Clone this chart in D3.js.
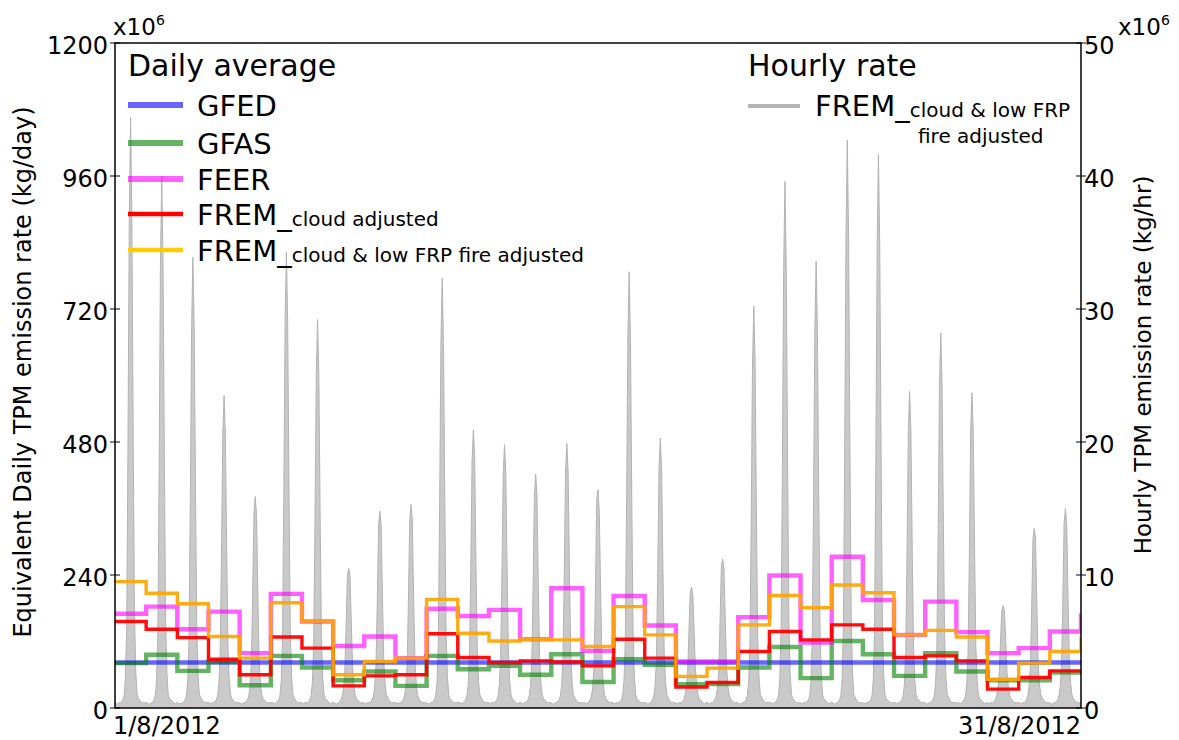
<!DOCTYPE html>
<html>
<head>
<meta charset="utf-8">
<script src="https://cdn.jsdelivr.net/npm/d3@7/dist/d3.min.js"></script>
<style>
  html, body { margin: 0; padding: 0; background: #fff; }
  svg { display: block; font-family: "DejaVu Sans", sans-serif; }
</style>
</head>
<body>
<svg id="chart" width="1179" height="740"></svg>
<script>
// ---------------- DATA ----------------
const dayLabels = ["1/8/2012", "31/8/2012"];
const leftTicks = [0, 240, 480, 720, 960, 1200];
const rightTicks = [0, 10, 20, 30, 40, 50];

// Daily averages (x10^6 kg/day), one value per day 1..31 Aug, plus 1 Sep (edge)
const GFED  = [82,82,82,82,82,82,82,82,82,82,82,82,82,82,82,82,82,82,82,82,82,82,82,82,82,82,82,82,82,82,82,82];
const GFAS  = [81,96,67,84,41,94,73,50,66,40,94,70,76,60,97,47,88,78,43,43,73,110,54,121,97,58,99,66,50,50,64,64];
const FEER  = [170,183,142,174,99,206,156,112,129,90,179,166,177,124,216,103,202,149,84,84,164,239,118,273,195,132,192,137,99,108,138,171];
const FREM_cloud = [156,142,127,88,60,128,108,40,58,60,134,91,82,85,83,76,124,90,38,46,102,138,123,150,142,91,94,85,34,55,67,67];
const FREM_cloud_lowFRP = [228,207,188,129,90,190,157,60,84,90,196,135,121,124,123,111,183,132,57,72,150,203,181,222,208,132,140,128,52,81,102,129];

// Hourly rate (x10^6 kg/hr), 24 hourly values per day
const hourly = [
 [0.4,0.3,0.3,0.4,0.4,0.5,0.6,0.9,2.2,6.1,19.8,36.8,44.4,36.8,20.6,7.1,2.7,1.0,0.7,0.6,0.5,0.4,0.4,0.4],
 [0.4,0.4,0.3,0.3,0.4,0.5,0.6,0.9,2.1,5.7,18.0,33.4,40.0,33.4,18.8,6.6,2.6,1.0,0.7,0.6,0.5,0.4,0.3,0.4],
 [0.4,0.3,0.4,0.3,0.4,0.5,0.6,0.9,2.0,5.1,15.6,28.6,33.9,28.6,16.2,5.9,2.4,1.0,0.8,0.6,0.5,0.4,0.4,0.4],
 [0.4,0.4,0.3,0.4,0.4,0.5,0.6,0.9,1.8,4.1,11.4,20.5,23.5,20.5,11.9,4.6,2.1,1.0,0.7,0.6,0.5,0.4,0.4,0.4],
 [0.4,0.3,0.3,0.4,0.4,0.5,0.6,0.9,1.6,3.3,8.4,14.6,15.9,14.6,8.7,3.7,1.9,1.0,0.7,0.6,0.5,0.4,0.4,0.4],
 [0.4,0.4,0.4,0.3,0.4,0.5,0.6,0.9,2.0,5.1,15.7,29.0,34.3,29.0,16.4,5.9,2.4,1.0,0.8,0.6,0.5,0.4,0.4,0.4],
 [0.4,0.3,0.4,0.4,0.4,0.5,0.6,0.9,1.9,4.6,13.7,25.0,29.2,25.0,14.3,5.3,2.3,1.0,0.7,0.6,0.5,0.4,0.3,0.4],
 [0.4,0.4,0.3,0.3,0.4,0.5,0.6,0.9,1.5,2.8,6.2,10.0,10.5,10.0,6.4,3.1,1.7,1.0,0.7,0.6,0.5,0.4,0.4,0.4],
 [0.4,0.3,0.4,0.4,0.4,0.5,0.6,0.9,1.6,3.2,7.9,13.7,14.8,13.7,8.2,3.6,1.8,1.0,0.8,0.6,0.5,0.4,0.4,0.4],
 [0.4,0.4,0.3,0.4,0.4,0.5,0.6,0.9,1.6,3.2,8.1,14.1,15.3,14.1,8.4,3.6,1.9,1.0,0.7,0.6,0.5,0.4,0.4,0.4],
 [0.4,0.3,0.3,0.4,0.4,0.5,0.6,0.9,1.9,4.9,14.9,27.4,32.3,27.4,15.6,5.7,2.4,1.0,0.7,0.6,0.5,0.4,0.4,0.4],
 [0.4,0.4,0.4,0.3,0.4,0.5,0.6,0.9,1.7,3.8,10.4,18.5,20.9,19.0,10.8,4.3,2.0,1.0,0.8,0.6,0.5,0.4,0.4,0.4],
 [0.4,0.3,0.4,0.4,0.4,0.5,0.6,0.9,1.7,3.7,9.9,17.6,19.8,17.6,10.3,4.2,2.0,1.0,0.7,0.6,0.5,0.4,0.3,0.4],
 [0.4,0.4,0.3,0.4,0.4,0.5,0.6,0.9,1.6,3.5,9.0,15.9,17.6,15.9,9.4,3.9,1.9,1.0,0.7,0.6,0.5,0.4,0.4,0.4],
 [0.4,0.3,0.3,0.4,0.4,0.5,0.6,0.9,1.7,3.7,10.0,17.7,19.9,17.7,10.4,4.2,2.0,1.0,0.8,0.6,0.5,0.4,0.4,0.4],
 [0.4,0.4,0.4,0.3,0.4,0.5,0.6,0.9,1.6,3.3,8.6,15.6,16.4,14.7,8.9,3.8,1.9,1.0,0.7,0.6,0.5,0.4,0.4,0.4],
 [0.4,0.3,0.4,0.4,0.4,0.5,0.6,0.9,2.0,5.0,15.1,27.8,32.8,27.8,15.8,5.7,2.4,1.0,0.7,0.6,0.5,0.4,0.4,0.4],
 [0.4,0.4,0.3,0.3,0.4,0.5,0.6,0.9,1.7,3.7,10.1,18.0,20.3,18.0,10.5,4.2,2.0,1.0,0.8,0.6,0.5,0.4,0.4,0.4],
 [0.4,0.3,0.4,0.4,0.4,0.5,0.6,0.9,1.5,2.6,5.6,8.6,9.1,8.6,5.8,2.9,1.7,1.0,0.7,0.6,0.5,0.4,0.3,0.4],
 [0.4,0.4,0.3,0.4,0.4,0.5,0.6,0.9,1.5,2.8,6.5,10.6,11.2,10.6,6.7,3.1,1.7,1.0,0.7,0.6,0.5,0.4,0.4,0.4],
 [0.4,0.3,0.3,0.4,0.4,0.5,0.6,0.9,1.9,4.7,14.1,25.8,30.2,25.8,14.7,5.4,2.3,1.0,0.8,0.6,0.5,0.4,0.4,0.4],
 [0.4,0.4,0.4,0.3,0.4,0.5,0.6,0.9,2.1,5.7,17.8,33.1,39.6,33.1,18.6,6.6,2.6,1.0,0.7,0.6,0.5,0.4,0.4,0.4],
 [0.4,0.3,0.4,0.4,0.4,0.5,0.6,0.9,2.0,5.1,15.4,28.4,33.6,28.4,16.1,5.8,2.4,1.0,0.7,0.6,0.5,0.4,0.3,0.4],
 [0.4,0.4,0.3,0.3,0.4,0.5,0.6,0.9,2.2,6.0,19.1,35.5,42.7,35.5,19.9,6.9,2.7,1.0,0.8,0.6,0.5,0.4,0.4,0.4],
 [0.4,0.3,0.4,0.4,0.4,0.5,0.6,0.9,2.1,5.9,18.6,34.6,41.6,34.6,19.5,6.8,2.6,1.0,0.7,0.6,0.5,0.4,0.4,0.4],
 [0.4,0.4,0.3,0.4,0.4,0.5,0.6,0.9,1.8,4.1,11.5,20.8,23.8,20.8,12.0,4.7,2.1,1.0,0.7,0.6,0.5,0.4,0.4,0.4],
 [0.4,0.3,0.3,0.4,0.4,0.5,0.6,0.9,1.9,4.5,13.3,24.2,28.2,24.2,13.8,5.2,2.2,1.0,0.8,0.6,0.5,0.4,0.4,0.4],
 [0.4,0.4,0.4,0.3,0.4,0.5,0.6,0.9,1.8,4.1,11.5,20.7,23.7,20.7,12.0,4.6,2.1,1.0,0.7,0.6,0.5,0.4,0.3,0.4],
 [0.4,0.3,0.4,0.4,0.4,0.5,0.6,0.9,1.5,2.5,5.1,7.3,7.7,7.3,5.2,2.7,1.6,1.0,0.7,0.6,0.5,0.4,0.4,0.4],
 [0.4,0.4,0.3,0.4,0.4,0.5,0.6,0.9,1.6,3.1,7.4,12.7,13.5,12.7,7.7,3.4,1.8,1.0,0.8,0.6,0.5,0.4,0.4,0.4],
 [0.4,0.3,0.3,0.4,0.4,0.5,0.6,0.9,1.6,3.2,8.0,13.9,15.0,13.9,8.3,3.6,1.9,1.0,0.7,0.6,0.5,0.4,0.4,0.4]
];

// ---------------- LAYOUT ----------------
const L = 115, R = 1081, T = 43, B = 708;
const svg = d3.select("#chart");
const x = d3.scaleLinear().domain([0, 31]).range([L, R]);
const yL = d3.scaleLinear().domain([0, 1200]).range([B, T]);
const yR = d3.scaleLinear().domain([0, 50]).range([B, T]);

svg.append("defs").append("clipPath").attr("id", "clip")
  .append("rect").attr("x", L).attr("y", T).attr("width", R - L).attr("height", B - T);

const plot = svg.append("g").attr("clip-path", "url(#clip)");

// Hourly area
const hourlyPts = [];
hourly.forEach((row, d) => row.forEach((v, h) => hourlyPts.push([d + h / 24, v])));
hourlyPts.push([31, hourly[30][23]]);
plot.append("path")
  .datum(hourlyPts)
  .attr("d", d3.area().x(p => x(p[0])).y0(yR(0)).y1(p => yR(p[1])))
  .attr("fill", "#c9c9c9")
  .attr("stroke", "#b3b3b3")
  .attr("stroke-width", 1);

// Daily step lines
const series = [
  { data: GFED, color: "#0000ff", op: 0.6, w: 4.4 },
  { data: GFAS, color: "#008000", op: 0.6, w: 4.4 },
  { data: FEER, color: "#ff00ff", op: 0.62, w: 4.4 },
  { data: FREM_cloud, color: "#ff0000", op: 0.95, w: 3.4 },
  { data: FREM_cloud_lowFRP, color: "#ffa500", op: 0.92, w: 3.4 }
];
const stepLine = d3.line().x((v, i) => x(i)).y(v => yL(v)).curve(d3.curveStepAfter);
series.forEach(s => {
  plot.append("path")
    .datum(s.data)
    .attr("d", stepLine)
    .attr("fill", "none")
    .attr("stroke", s.color)
    .attr("stroke-opacity", s.op)
    .attr("stroke-width", s.w)
    .attr("stroke-linejoin", "miter");
});

// Frame
svg.append("rect").attr("x", L).attr("y", T).attr("width", R - L).attr("height", B - T)
  .attr("fill", "none").attr("stroke", "#000").attr("stroke-width", 1.5);

// Left axis
const leftAxis = svg.append("g");
leftTicks.forEach(t => {
  leftAxis.append("line").attr("x1", L - 5).attr("x2", L + 5)
    .attr("y1", yL(t)).attr("y2", yL(t)).attr("stroke", "#000").attr("stroke-width", 1);
  leftAxis.append("text").attr("x", L - 7).attr("y", yL(t) + 3)
    .attr("text-anchor", "end").attr("dominant-baseline", "central")
    .attr("font-size", 24).text(t);
});
// Right axis
const rightAxis = svg.append("g");
rightTicks.forEach(t => {
  rightAxis.append("line").attr("x1", R - 5).attr("x2", R + 5)
    .attr("y1", yR(t)).attr("y2", yR(t)).attr("stroke", "#000").attr("stroke-width", 1);
  rightAxis.append("text").attr("x", R + 3).attr("y", yR(t) + 3)
    .attr("text-anchor", "start").attr("dominant-baseline", "central")
    .attr("font-size", 24).text(t);
});

// Multipliers
function multiplier(xPos, yPos) {
  const t = svg.append("text").attr("x", xPos).attr("y", yPos).attr("font-size", 23);
  t.append("tspan").text("x10");
  t.append("tspan").attr("font-size", 14).attr("dy", -10).text("6");
}
multiplier(113, 35);
multiplier(1118, 35);

// X labels
svg.append("text").attr("x", L - 2).attr("y", 734).attr("font-size", 24)
  .attr("text-anchor", "start").text(dayLabels[0]);
svg.append("text").attr("x", R).attr("y", 734).attr("font-size", 24)
  .attr("text-anchor", "end").text(dayLabels[1]);

// Axis titles
svg.append("text").attr("transform", "translate(31,372) rotate(-90)")
  .attr("text-anchor", "middle").attr("font-size", 24)
  .text("Equivalent Daily TPM emission rate (kg/day)");
svg.append("text").attr("transform", "translate(1151,365) rotate(-90)")
  .attr("text-anchor", "middle").attr("font-size", 23)
  .text("Hourly TPM emission rate (kg/hr)");

// Legends
svg.append("text").attr("x", 128).attr("y", 76).attr("font-size", 30).text("Daily average");
const legendItems = [
  { main: "GFED", sub: "", color: "#0000ff", op: 0.6, w: 6, y: 105 },
  { main: "GFAS", sub: "", color: "#008000", op: 0.6, w: 6, y: 143 },
  { main: "FEER", sub: "", color: "#ff00ff", op: 0.62, w: 6, y: 179 },
  { main: "FREM_", sub: "cloud adjusted", color: "#ff0000", op: 1, w: 4.5, y: 214 },
  { main: "FREM_", sub: "cloud & low FRP fire adjusted", color: "#ffcc00", op: 1, w: 4.5, y: 250 }
];
legendItems.forEach(it => {
  svg.append("line").attr("x1", 128).attr("x2", 183).attr("y1", it.y).attr("y2", it.y)
    .attr("stroke", it.color).attr("stroke-opacity", it.op).attr("stroke-width", it.w);
  const t = svg.append("text").attr("x", 197).attr("y", it.y + 11).attr("font-size", 29);
  t.append("tspan").text(it.main);
  if (it.sub) t.append("tspan").attr("font-size", 20).attr("dy", 1).text(it.sub);
});

svg.append("text").attr("x", 748).attr("y", 76).attr("font-size", 30).text("Hourly rate");
svg.append("line").attr("x1", 748).attr("x2", 800).attr("y1", 106).attr("y2", 106)
  .attr("stroke", "#b4b4b4").attr("stroke-width", 4);
const rt = svg.append("text").attr("x", 815).attr("y", 116).attr("font-size", 29);
rt.append("tspan").text("FREM_");
rt.append("tspan").attr("font-size", 20).attr("dy", 1).text("cloud & low FRP");
svg.append("text").attr("x", 918).attr("y", 143).attr("font-size", 20).text("fire adjusted");
</script>
</body>
</html>
